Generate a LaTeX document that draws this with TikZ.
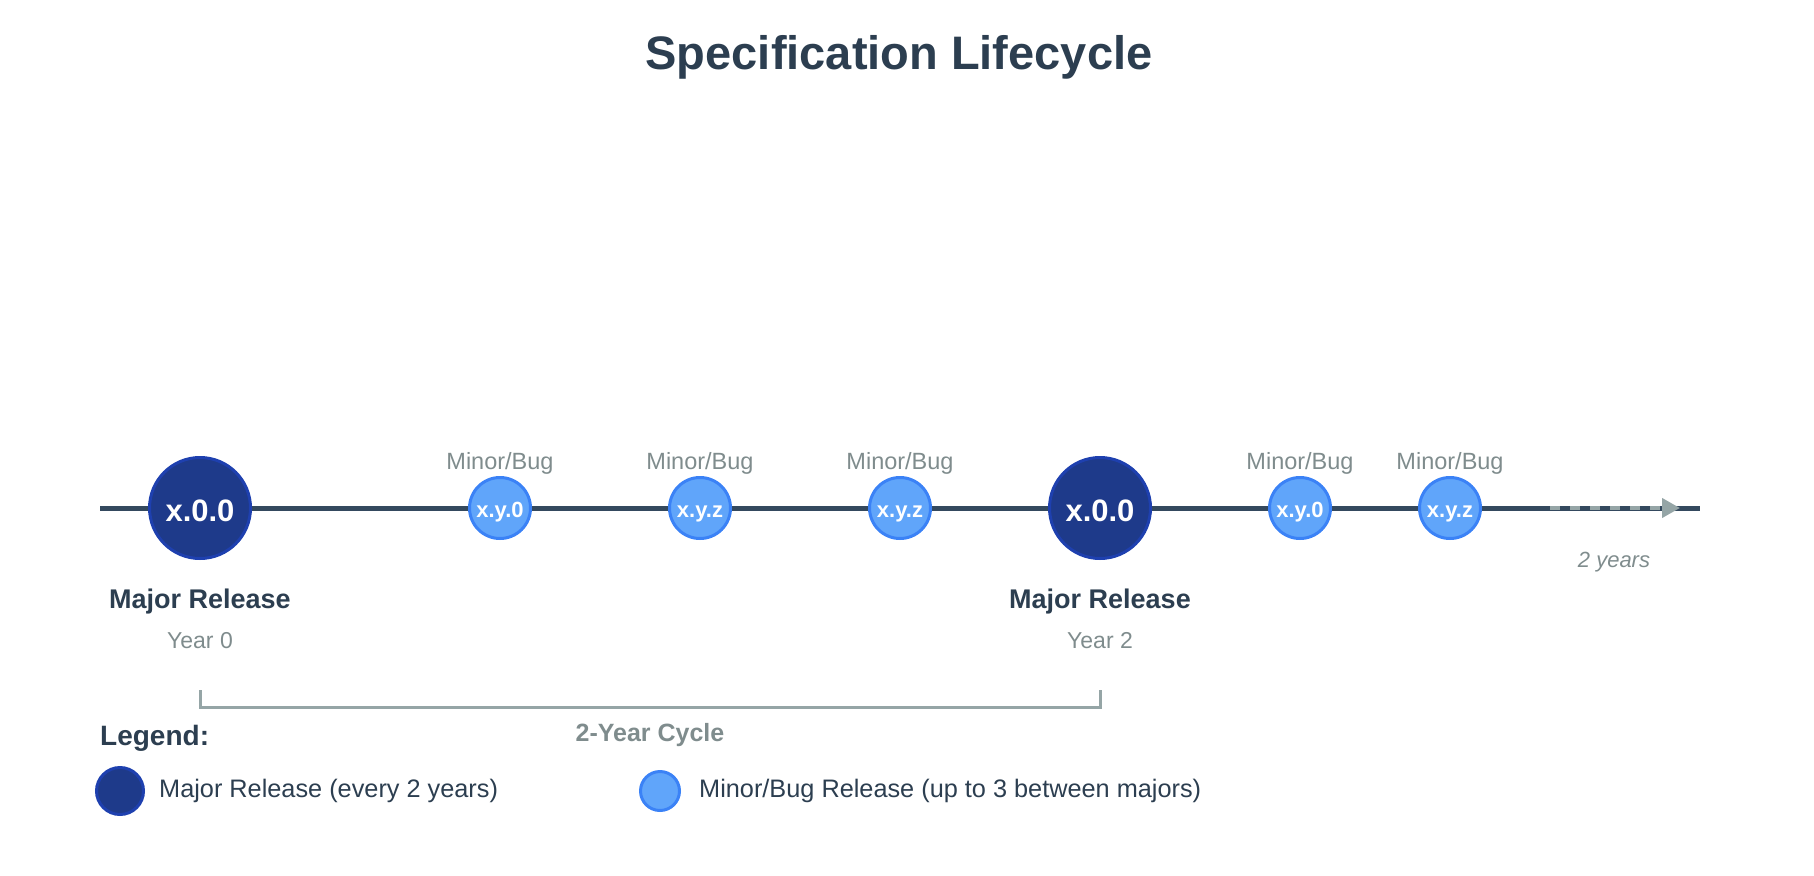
\documentclass[tikz,border=0pt]{standalone}
\usepackage{fontspec}
\setmainfont{Liberation Sans}
\usepackage{xcolor}
\usepackage{tikz}
\usetikzlibrary{arrows.meta, positioning, calc}

\definecolor{textdark}{HTML}{2C3E50}
\definecolor{textgray}{HTML}{7F8C8D}
\definecolor{linedark}{HTML}{34495E}
\definecolor{lightgray}{HTML}{95A5A6}
\definecolor{majorfill}{HTML}{1E3A8A}
\definecolor{majorborder}{HTML}{1E40AF}
\definecolor{minorfill}{HTML}{60A5FA}
\definecolor{minorborder}{HTML}{3B82F6}

\tikzset{
    major/.style={
        circle,
        draw=majorborder,
        fill=majorfill,
        line width=3pt,
        minimum size=101pt,
        inner sep=0pt,
        text height=26pt,
        text depth=0pt,
        text=white,
        font=\fontsize{31}{36}\selectfont\bfseries
    },
    minor/.style={
        circle,
        draw=minorborder,
        fill=minorfill,
        line width=3pt,
        minimum size=61pt,
        inner sep=0pt,
        text height=19.5pt,
        text depth=0pt,
        text=white,
        font=\fontsize{22}{26}\selectfont\bfseries
    },
    timeline/.style={
        draw=linedark,
        line width=5pt
    },
    future/.style={
        draw=lightgray,
        line width=4pt,
        dash pattern=on 10pt off 10pt,
        -{Triangle[length=18pt, width=19pt]}
    },
    bracket/.style={
        draw=lightgray,
        line width=3pt
    },
    title/.style={
        inner sep=0pt,
        text=textdark,
        font=\fontsize{47}{56}\selectfont\bfseries
    },
    majorlabel/.style={
        inner sep=0pt,
        text=textdark,
        font=\fontsize{27}{32}\selectfont\bfseries
    },
    yearlabel/.style={
        inner sep=0pt,
        text=textgray,
        font=\fontsize{23}{27}\selectfont
    },
    minorlabel/.style={
        inner sep=0pt,
        text=textgray,
        font=\fontsize{23.5}{28}\selectfont
    },
    note/.style={
        inner sep=0pt,
        text=textgray,
        font=\fontsize{22}{26}\selectfont\itshape
    },
    cyclelabel/.style={
        inner sep=0pt,
        text=textgray,
        font=\fontsize{25}{30}\selectfont\bfseries
    },
    legendhead/.style={
        inner sep=0pt,
        text=textdark,
        font=\fontsize{28}{34}\selectfont\bfseries
    },
    legendtext/.style={
        inner sep=0pt,
        text=textdark,
        font=\fontsize{25.3}{30}\selectfont
    }
}

\begin{document}
\begin{tikzpicture}[x=1pt, y=1pt]

\useasboundingbox (0,0) rectangle (1814,-875);

% Title
\node[title] (head) at (899,-57) {Specification Lifecycle};

% Timeline axis
\coordinate (tstart) at (100,-508);
\coordinate (tend) at (1700,-508);
\draw[timeline] (tstart) -- (tend);

% Major releases
\node[major] (maj0) at (200,-508) {x.0.0};
\node[major] (maj2) at (1100,-508) {x.0.0};

% Minor/bug releases
\node[minor] (min1) at (500,-508) {x.y.0};
\node[minor] (min2) at (700,-508) {x.y.z};
\node[minor] (min3) at (900,-508) {x.y.z};
\node[minor] (min4) at (1300,-508) {x.y.0};
\node[minor] (min5) at (1450,-508) {x.y.z};

\foreach \m in {min1,min2,min3,min4,min5}
    \node[minorlabel, above=1.5pt of \m] (\m-lbl) {Minor/Bug};

% Labels under majors
\node[majorlabel, below=29pt of maj0] (maj0-lbl) {Major Release};
\node[yearlabel, below=18pt of maj0-lbl] (maj0-year) {Year 0};
\node[majorlabel, below=29pt of maj2] (maj2-lbl) {Major Release};
\node[yearlabel, below=18pt of maj2-lbl] (maj2-year) {Year 2};

% Continuation
\coordinate (fstart) at (1550,-508);
\coordinate (fend) at (1680,-508);
\draw[future] (fstart) -- (fend);
\node[note] (span) at (1614,-562) {2 years};

% Cycle bracket
\draw[bracket] ([yshift=-182pt]maj0.center) -- ++(0,-17) -| ([yshift=-182pt]maj2.center);
\node[cyclelabel] (cycle) at (650,-735) {2-Year Cycle};

% Legend
\node[legendhead, anchor=west] (leg) at (100,-738) {Legend:};
\node[major, minimum size=47pt] (legmaj) at (120,-791) {};
\node[legendtext, right=14pt of legmaj] (legmaj-txt) {Major Release (every 2 years)};
\node[minor, minimum size=39pt] (legmin) at (660,-791) {};
\node[legendtext, right=18pt of legmin] (legmin-txt) {Minor/Bug Release (up to 3 between majors)};

\end{tikzpicture}
\end{document}
